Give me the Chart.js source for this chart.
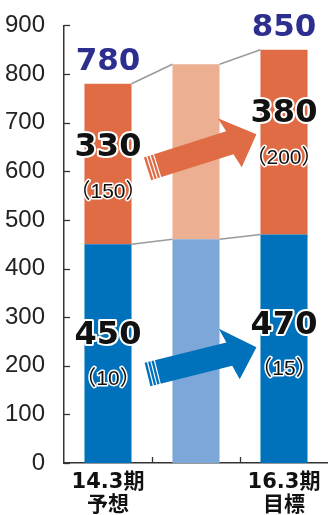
<!DOCTYPE html>
<html>
<head>
<meta charset="utf-8">
<script src="https://cdn.jsdelivr.net/npm/chart.js@4/dist/chart.umd.min.js"></script>
<style>
  html, body { margin: 0; padding: 0; background: #fff; }
  #wrap { width: 328px; height: 515px; }
</style>
</head>
<body>
<div id="wrap"><canvas id="c" width="328" height="515"></canvas></div>
<script>
// Categories (multi-line tick labels); the middle column is an unlabeled transition bar
const categories = [['14.3期', '予想'], '', ['16.3期', '目標']];
// Lower (blue) and upper (orange) stacked segments
const lowerValues = [450, 460, 470];
const upperValues = [330, 360, 380];
// Bracketed notes shown under the segment values
const lowerNotes = ['（10）', null, '（15）'];
const upperNotes = ['（150）', null, '（200）'];
// Which columns carry printed values
const labeled = [true, false, true];
// Y axis ticks
const yTicks = [0, 100, 200, 300, 400, 500, 600, 700, 800, 900];

const BLUE = '#0071BB', BLUE_LIGHT = '#7CA7D8';
const ORANGE = '#E06C45', ORANGE_LIGHT = '#ECAF91';
const NAVY = '#2D2F8F';

// Growth arrows from the first column to the last, anchored in value space
const arrows = [
  { color: ORANGE, fromValue: 605, toValue: 676 },
  { color: BLUE, fromValue: 182, toValue: 238 }
];

const decor = {
  id: 'decor',
  afterDatasetsDraw(chart) {
    const ctx = chart.ctx;
    const xs = chart.scales.x, ys = chart.scales.y;
    const lowMeta = chart.getDatasetMeta(0).data;
    const upMeta = chart.getDatasetMeta(1).data;
    const area = chart.chartArea;

    ctx.save();
    // Inward tick marks on the axes
    ctx.strokeStyle = '#333';
    ctx.lineWidth = 1.3;
    yTicks.forEach(v => {
      const y = Math.round(ys.getPixelForValue(v)) + 0.5;
      ctx.beginPath(); ctx.moveTo(area.left, y); ctx.lineTo(area.left + 6, y); ctx.stroke();
    });
    for (let i = 0; i < categories.length - 1; i++) {
      const x = Math.round((xs.getPixelForValue(i) + xs.getPixelForValue(i + 1)) / 2) + 0.5;
      ctx.beginPath(); ctx.moveTo(x, area.bottom); ctx.lineTo(x, area.bottom - 6); ctx.stroke();
    }

    // Connector lines between neighbouring segment tops
    ctx.strokeStyle = '#9a9a9a';
    ctx.lineWidth = 1.5;
    [lowMeta, upMeta].forEach(meta => {
      for (let i = 0; i < meta.length - 1; i++) {
        const a = meta[i], b = meta[i + 1];
        ctx.beginPath();
        ctx.moveTo(a.x + a.width / 2, a.y);
        ctx.lineTo(b.x - b.width / 2, b.y);
        ctx.stroke();
      }
    });

    // Arrows
    const first = lowMeta[0], last = lowMeta[lowMeta.length - 1];
    arrows.forEach(ar => {
      const x0 = first.x + first.width / 2 + 16;
      const y0 = ys.getPixelForValue(ar.fromValue);
      const x1 = last.x - last.width / 2 - 4;
      const y1 = ys.getPixelForValue(ar.toValue);
      const ang = Math.atan2(y1 - y0, x1 - x0);
      const len = Math.hypot(x1 - x0, y1 - y0);
      const shaft = 12, head = 27, headLen = 28;
      ctx.save();
      ctx.translate(x0, y0);
      ctx.rotate(ang);
      ctx.fillStyle = ar.color;
      ctx.beginPath();
      ctx.moveTo(0, -shaft);
      ctx.lineTo(len - headLen, -shaft);
      ctx.lineTo(len - headLen - 4, -head);
      ctx.lineTo(len, 0);
      ctx.lineTo(len - headLen + 4, head);
      ctx.lineTo(len - headLen, shaft);
      ctx.lineTo(0, shaft);
      ctx.closePath();
      ctx.fill();
      // Speed stripes near the tail
      ctx.strokeStyle = '#fff';
      ctx.lineWidth = 1.2;
      [3, 6.5, 10].forEach(d => {
        ctx.beginPath(); ctx.moveTo(d, -shaft - 1); ctx.lineTo(d, shaft + 1); ctx.stroke();
      });
      ctx.restore();
    });

    // Outlined text helper
    const outlined = (txt, x, y, font, color, stroke) => {
      ctx.font = font;
      ctx.textAlign = 'center';
      ctx.textBaseline = 'middle';
      ctx.lineJoin = 'round';
      if (stroke) {
        ctx.strokeStyle = '#fff';
        ctx.lineWidth = stroke;
        ctx.strokeText(txt, x, y);
      }
      ctx.fillStyle = color;
      ctx.fillText(txt, x, y);
    };

    const valueFont = 'bold 32px "DejaVu Sans", sans-serif';
    const noteFont = '21px "Liberation Sans", "Noto Sans CJK JP", sans-serif';
    for (let i = 0; i < categories.length; i++) {
      if (!labeled[i]) continue;
      const lo = lowMeta[i], up = upMeta[i];
      // Total above the bar
      ctx.font = 'bold 31px "DejaVu Sans", sans-serif';
      ctx.fillStyle = NAVY;
      ctx.textAlign = 'center';
      ctx.textBaseline = 'alphabetic';
      ctx.fillText(String(lowerValues[i] + upperValues[i]), up.x, up.y - 14);
      // Upper segment value and note
      outlined(String(upperValues[i]), up.x, up.y + 64, valueFont, '#111', 4);
      if (upperNotes[i]) outlined(upperNotes[i], up.x, up.y + 108, noteFont, '#111', 3);
      // Lower segment value and note
      outlined(String(lowerValues[i]), lo.x, lo.y + 91, valueFont, '#111', 4);
      if (lowerNotes[i]) outlined(lowerNotes[i], lo.x, lo.y + 135, noteFont, '#111', 3);
    }
    ctx.restore();
  }
};

new Chart(document.getElementById('c'), {
  type: 'bar',
  data: {
    labels: categories,
    datasets: [
      { data: lowerValues, backgroundColor: [BLUE, BLUE_LIGHT, BLUE], borderWidth: 0 },
      { data: upperValues, backgroundColor: [ORANGE, ORANGE_LIGHT, ORANGE], borderWidth: 0 }
    ]
  },
  options: {
    responsive: false,
    animation: false,
    events: [],
    barPercentage: 0.535,
    categoryPercentage: 1,
    layout: { padding: { top: 24, right: 0, bottom: 0, left: 0 } },
    plugins: { legend: { display: false }, tooltip: { enabled: false } },
    scales: {
      x: {
        stacked: true,
        grid: { display: false },
        border: { display: true, color: '#333', width: 1.5 },
        ticks: {
          color: '#111',
          padding: 0,
          maxRotation: 0,
          autoSkip: false,
          font: { family: '"DejaVu Sans", "Noto Sans CJK JP", sans-serif', size: 21, weight: 'bold', lineHeight: 1.1 }
        },
        afterFit(scale) { scale.height = 52; }
      },
      y: {
        stacked: true,
        min: 0,
        max: 900,
        grid: { display: false },
        border: { display: true, color: '#333', width: 1.5 },
        ticks: {
          stepSize: 100,
          color: '#222',
          padding: 11,
          font: { family: '"Liberation Sans", Arial, sans-serif', size: 24 }
        },
        afterFit(scale) { scale.width = 64; }
      }
    }
  },
  plugins: [decor]
});
</script>
</body>
</html>
